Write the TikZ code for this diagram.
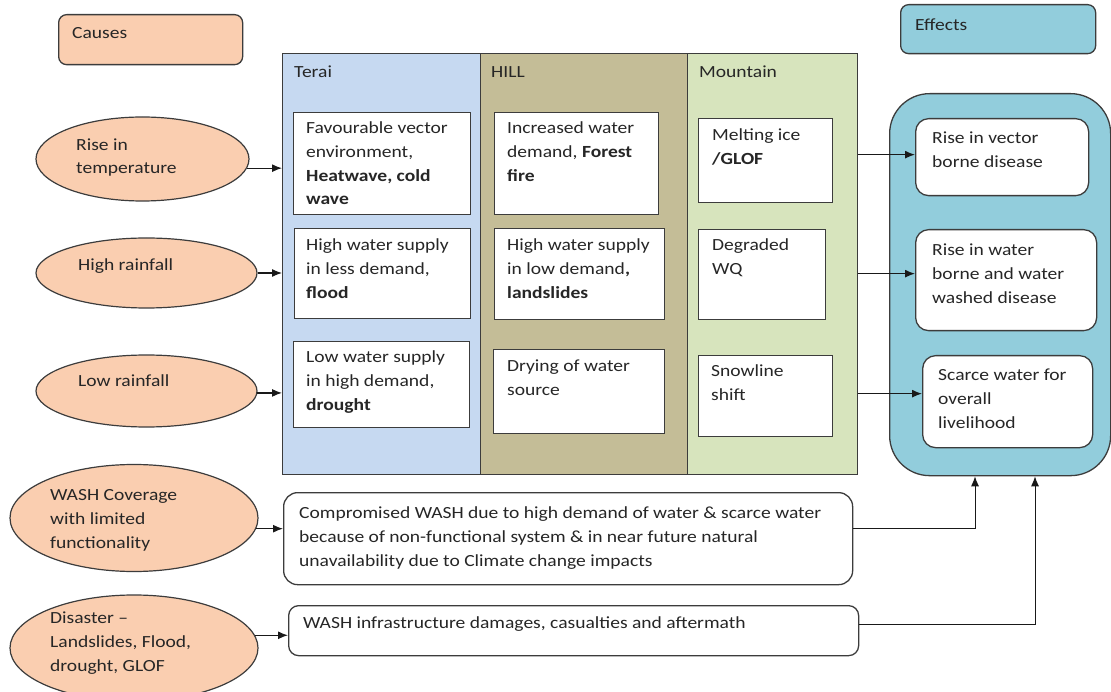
\documentclass[tikz,border=0pt]{standalone}
\usepackage{fontspec}
\setmainfont{Carlito}[FakeStretch=1.15]
\usetikzlibrary{arrows.meta,shapes.geometric,calc}
\definecolor{peach}{RGB}{250,206,176}
\definecolor{effc}{RGB}{146,205,220}
\definecolor{teraic}{RGB}{198,217,241}
\definecolor{hillc}{RGB}{196,189,151}
\definecolor{mtnc}{RGB}{215,228,189}
\definecolor{linec}{RGB}{60,60,60}
\newcommand\myfs{\fontsize{17pt}{23.8pt}\selectfont}
\tikzset{
  box/.style={draw=linec, fill=white, line width=1.3pt, inner sep=0pt, anchor=north west, rectangle},
  rbox/.style={box, rounded corners=13pt},
  col/.style={draw=linec, line width=1.3pt, inner sep=0pt, anchor=north west, rectangle},
  txt/.style={inner sep=0pt, anchor=base west, align=left, font=\myfs, text=black!85},
  cause/.style={ellipse, draw=linec, fill=peach, line width=1.2pt, inner sep=0pt},
  arr/.style={-{Latex[length=10pt,width=8pt]}, line width=1.2pt, draw=black!90},
}
\begin{document}
\begin{tikzpicture}[x=1pt,y=-1pt]
\useasboundingbox[fill=white] (0,0) rectangle (1111,692);
\clip (0,0) rectangle (1111,692);

% header boxes
\node[box, fill=peach, rounded corners=8pt, minimum width=184pt, minimum height=50pt] (causes) at (58,14) {};
\node[txt] (causest) at (72,38.5) {Causes};
\node[box, fill=effc, rounded corners=8pt, minimum width=195pt, minimum height=49pt] (effects) at (900,4) {};
\node[txt] (effectst) at (915,30.5) {Effects};

% columns
\node[col, fill=teraic, minimum width=198pt, minimum height=421pt] (terai) at (282,53) {};
\node[col, fill=hillc, minimum width=207pt, minimum height=421pt] (hill) at (480,53) {};
\node[col, fill=mtnc, minimum width=170pt, minimum height=421pt] (mtn) at (687,53) {};
\node[txt] (teRail) at (294,77.5) {Terai};
\node[txt] (hilll) at (491,77.5) {HILL};
\node[txt] (mtnl) at (699,77.5) {Mountain};

% terai boxes
\node[box, minimum width=177pt, minimum height=102pt] (t1) at (293,112) {};
\node[txt] (t1t) at (306,204.9) {Favourable vector\\environment,\\\textbf{Heatwave, cold}\\\textbf{wave}};
\node[box, minimum width=176pt, minimum height=90pt] (t2) at (294,228) {};
\node[txt] (t2t) at (306,298.1) {High water supply\\in less demand,\\\textbf{flood}};
\node[box, minimum width=176pt, minimum height=86pt] (t3) at (293,341) {};
\node[txt] (t3t) at (306,410.1) {Low water supply\\in high demand,\\\textbf{drought}};

% hill boxes
\node[box, minimum width=164pt, minimum height=102pt] (h1) at (494,112) {};
\node[txt] (h1t) at (507,181.1) {Increased water\\demand, \textbf{Forest}\\\textbf{fire}};
\node[box, minimum width=170pt, minimum height=91pt] (h2) at (494,228) {};
\node[txt] (h2t) at (507,298.1) {High water supply\\in low demand\textbf{,}\\\textbf{landslides}};
\node[box, minimum width=171pt, minimum height=84pt] (h3) at (493,349) {};
\node[txt] (h3t) at (507,395.3) {Drying of water\\source};

% mountain boxes
\node[box, minimum width=134pt, minimum height=84pt] (m1) at (698,118) {};
\node[txt] (m1t) at (712,164.3) {Melting ice\\\textbf{/GLOF}};
\node[box, minimum width=127pt, minimum height=90pt] (m2) at (698,229) {};
\node[txt] (m2t) at (712,274.3) {Degraded\\WQ};
\node[box, minimum width=134pt, minimum height=81pt] (m3) at (698,355) {};
\node[txt] (m3t) at (711,400.3) {Snowline\\shift};

% effects container
\node[col, fill=effc, rounded corners=40pt, minimum width=221pt, minimum height=382pt] (cont) at (889,93) {};
\node[rbox, minimum width=173pt, minimum height=77pt] (e1) at (915,118) {};
\node[txt] (e1t) at (932,167.3) {Rise in vector\\borne disease};
\node[rbox, minimum width=181pt, minimum height=101pt] (e2) at (915,229) {};
\node[txt] (e2t) at (932,303.1) {Rise in water\\borne and water\\washed disease};
\node[rbox, minimum width=170pt, minimum height=92pt] (e3) at (922,355) {};
\node[txt] (e3t) at (938,428.1) {Scarce water for\\overall\\livelihood};

% causes
\node[cause, minimum width=213pt, minimum height=84pt] (temp) at (142.5,159) {};
\node[txt] (tempt) at (76,174) {Rise in\\temperature};
\node[cause, minimum width=221pt, minimum height=70pt] (high) at (146.5,273) {};
\node[txt] (hight) at (78,270.5) {High rainfall};
\node[cause, minimum width=221pt, minimum height=72pt] (low) at (146.5,391) {};
\node[txt] (lowt) at (78,386.5) {Low rainfall};
\node[cause, minimum width=248pt, minimum height=107pt] (wash) at (134,518) {};
\node[txt] (washt) at (50,548.1) {WASH Coverage\\with limited\\functionality};
\node[cause, minimum width=248pt, minimum height=106pt] (dis) at (134,648) {};
\node[txt] (dist) at (50,671.1) {Disaster --\\Landslides, Flood,\\drought, GLOF};

% bottom boxes
\node[rbox, rounded corners=14pt, minimum width=569pt, minimum height=92pt] (comp) at (283,492) {};
\node[txt] (compt) at (299,566.1) {Compromised WASH due to high demand of water \& scarce water\\because of non-functional system \& in near future natural\\unavailability due to Climate change impacts};
\node[rbox, rounded corners=10pt, minimum width=570pt, minimum height=50pt] (infra) at (288,605) {};
\node[txt] (infrat) at (303,628.5) {WASH infrastructure damages, casualties and aftermath};

% arrows from causes
\draw[arr] (temp.-5.5) -- (temp.-5.5 -| terai.west);
\draw[arr] (high.east) -- (high.east -| terai.west);
\draw[arr] (low.-1) -- (low.-1 -| terai.west);
\draw[arr] (wash.-5.2) -- (wash.-5.2 -| comp.west);
\draw[arr] (dis.6.2) -- (dis.6.2 -| infra.west);

% arrows to effects
\draw[arr] ([yshift=2.5pt]e1.west -| mtn.east) -- ([yshift=2.5pt]e1.west);
\draw[arr] ([yshift=6.5pt]e2.west -| mtn.east) -- ([yshift=6.5pt]e2.west);
\draw[arr] ([yshift=8pt]e3.west -| mtn.east) -- ([yshift=8pt]e3.west);

% bottom connectors
\coordinate (c1) at ($(cont.south west)+(86,0)$);
\coordinate (c2) at ($(cont.south west)+(146,0)$);
\draw[arr, line width=1pt] ([yshift=10pt]comp.east) -| (c1);
\draw[arr, line width=1pt] ([yshift=6pt]infra.east) -| (c2);
\end{tikzpicture}
\end{document}
